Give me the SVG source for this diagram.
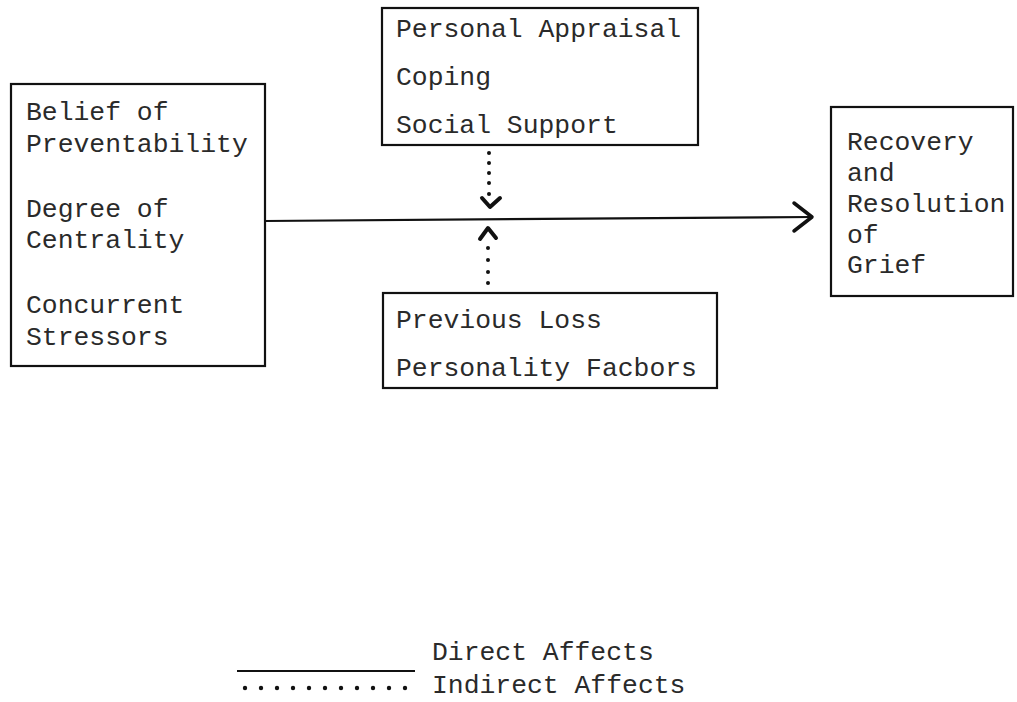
<svg xmlns="http://www.w3.org/2000/svg" width="1017" height="702" viewBox="0 0 1017 702">
<style>
.box{fill:none;stroke:#111;stroke-width:2.2}
.t{font-family:"Liberation Mono","DejaVu Sans Mono",monospace;font-size:26.4px;fill:#2a2a2a}
.solid{fill:none;stroke:#111;stroke-width:2.2}
.dot{fill:#111}
.chev{fill:none;stroke:#111;stroke-width:4;stroke-linecap:round;stroke-linejoin:round}
</style>
<rect width="1017" height="702" fill="#fff"/>
<g id="connectors">
  <path class="solid" d="M265 221 L812 217"/>
  <path class="chev" d="M794 203 L812 217 L794 231" style="stroke-width:3.5"/>
  <g id="dots-top">
    <circle class="dot" cx="489" cy="153" r="2"/>
    <circle class="dot" cx="489" cy="163" r="2"/>
    <circle class="dot" cx="489" cy="173" r="2"/>
    <circle class="dot" cx="489" cy="183" r="2"/>
    <circle class="dot" cx="489" cy="194" r="2"/>
  </g>
  <path class="chev" d="M482 198 L490 207 L500 198"/>
  <g id="dots-bottom">
    <circle class="dot" cx="488" cy="248" r="2"/>
    <circle class="dot" cx="488" cy="260" r="2"/>
    <circle class="dot" cx="488" cy="272" r="2"/>
    <circle class="dot" cx="488" cy="283" r="2"/>
  </g>
  <path class="chev" d="M480 239 L488 228 L496 238"/>
</g>
<g id="node-left">
  <rect class="box" x="11" y="84" width="254" height="282"/>
  <text class="t" x="26" y="120">Belief of</text>
  <text class="t" x="26" y="152">Preventability</text>
  <text class="t" x="26" y="217">Degree of</text>
  <text class="t" x="26" y="248">Centrality</text>
  <text class="t" x="26" y="313">Concurrent</text>
  <text class="t" x="26" y="345">Stressors</text>
</g>
<g id="node-top">
  <rect class="box" x="382" y="8" width="316" height="137"/>
  <text class="t" x="396" y="37">Personal Appraisal</text>
  <text class="t" x="396" y="85">Coping</text>
  <text class="t" x="396" y="133">Social Support</text>
</g>
<g id="node-bottom">
  <rect class="box" x="383" y="293" width="334" height="95"/>
  <text class="t" x="396" y="328">Previous Loss</text>
  <text class="t" x="396" y="376">Personality Facbors</text>
</g>
<g id="node-right">
  <rect class="box" x="831" y="107" width="182" height="189"/>
  <text class="t" x="847" y="150">Recovery</text>
  <text class="t" x="847" y="181">and</text>
  <text class="t" x="847" y="212">Resolution</text>
  <text class="t" x="847" y="243">of</text>
  <text class="t" x="847" y="273">Grief</text>
</g>
<g id="legend">
  <path class="solid" d="M237 671 L415 671"/>
  <g class="dot">
    <circle cx="245" cy="688" r="2.2"/><circle cx="261" cy="688" r="2.2"/><circle cx="277" cy="688" r="2.2"/><circle cx="293" cy="688" r="2.2"/><circle cx="309" cy="688" r="2.2"/><circle cx="325" cy="688" r="2.2"/><circle cx="341" cy="688" r="2.2"/><circle cx="357" cy="688" r="2.2"/><circle cx="373" cy="688" r="2.2"/><circle cx="389" cy="688" r="2.2"/><circle cx="405" cy="688" r="2.2"/>
  </g>
  <text class="t" x="432" y="660">Direct Affects</text>
  <text class="t" x="432" y="693">Indirect Affects</text>
</g>
</svg>
